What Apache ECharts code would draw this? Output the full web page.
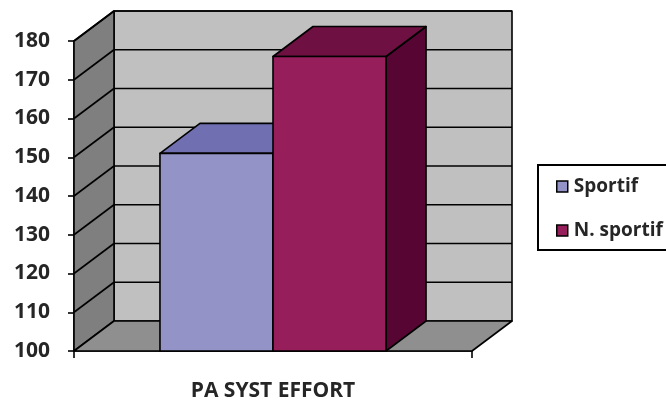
<!DOCTYPE html>
<html>
<head>
<meta charset="utf-8">
<script src="https://cdn.jsdelivr.net/npm/echarts@6/dist/echarts.min.js"></script>
<style>
    html, body { margin: 0; padding: 0; background: #fff; }
    #chart { width: 666px; height: 403px; }
</style>
</head>
<body>
<div id="chart"></div>
<script>
// Chart data
const categories = ['PA SYST EFFORT'];
const seriesNames = ['Sportif', 'N. sportif'];
const sportif = [151];
const nonSportif = [176];
const yTicks = [100, 110, 120, 130, 140, 150, 160, 170, 180];

// 3D look: depth offset of the back plane, in pixels
const DX = 40;
const DY = -30;
const BAR_FRAC = 0.284;
const EDGE = { stroke: '#000', lineWidth: 1.6, lineJoin: 'round' };

const yMin = yTicks[0];
const yMax = yTicks[yTicks.length - 1];

// Back wall, left wall, floor and grid lines
function renderWalls(params, api) {
    const c0 = api.coord([0, yMin]);
    const c1 = api.coord([0, yMax]);
    const bw = api.size([1, 0])[0];
    const xl = c0[0] - bw / 2;
    const xr = c0[0] + bw / 2;
    const yb = c0[1];
    const yt = c1[1];

    const children = [
        {
            type: 'polygon',
            shape: { points: [[xl + DX, yt + DY], [xr + DX, yt + DY], [xr + DX, yb + DY], [xl + DX, yb + DY]] },
            style: Object.assign({ fill: '#c0c0c0' }, EDGE)
        },
        {
            type: 'polygon',
            shape: { points: [[xl, yt], [xl + DX, yt + DY], [xl + DX, yb + DY], [xl, yb]] },
            style: Object.assign({ fill: '#7f7f7f' }, EDGE)
        },
        {
            type: 'polygon',
            shape: { points: [[xl, yb], [xl + DX, yb + DY], [xr + DX, yb + DY], [xr, yb]] },
            style: Object.assign({ fill: '#8f8f8f' }, EDGE)
        }
    ];

    yTicks.forEach(v => {
        if (v === yMin) return;
        const y = api.coord([0, v])[1];
        children.push({
            type: 'line',
            shape: { x1: xl + DX, y1: y + DY, x2: xr + DX, y2: y + DY },
            style: EDGE
        });
        children.push({
            type: 'line',
            shape: { x1: xl, y1: y, x2: xl + DX, y2: y + DY },
            style: EDGE
        });
    });

    return { type: 'group', children: children };
}

// 3D bar: front face, top and right side
function makeBarRenderer(side, colors) {
    return function (params, api) {
        const base = api.coord([api.value(0), yMin]);
        const tip = api.coord([api.value(0), api.value(1)]);
        const bw = api.size([1, 0])[0] * BAR_FRAC;
        const x0 = side < 0 ? base[0] - bw : base[0];
        const x1 = x0 + bw;
        const yt = tip[1];
        const yb = base[1];
        return {
            type: 'group',
            children: [
                {
                    type: 'polygon',
                    shape: { points: [[x1, yt], [x1 + DX, yt + DY], [x1 + DX, yb + DY], [x1, yb]] },
                    style: Object.assign({ fill: colors.side }, EDGE)
                },
                {
                    type: 'polygon',
                    shape: { points: [[x0, yt], [x0 + DX, yt + DY], [x1 + DX, yt + DY], [x1, yt]] },
                    style: Object.assign({ fill: colors.top }, EDGE)
                },
                {
                    type: 'rect',
                    shape: { x: x0, y: yt, width: bw, height: yb - yt },
                    style: Object.assign({ fill: colors.front }, EDGE)
                }
            ]
        };
    };
}

const font = { fontFamily: 'Open Sans', fontWeight: 'bold', fontSize: 21, color: '#262626' };

const chart = echarts.init(document.getElementById('chart'));

const option = {
    animation: false,
    grid: { left: 74, right: 194, top: 41, bottom: 52 },
    legend: {
        data: seriesNames,
        orient: 'vertical',
        left: 538,
        top: 165,
        padding: [12, 6, 10, 18],
        borderColor: '#000',
        borderWidth: 2,
        itemGap: 25,
        itemWidth: 11,
        itemHeight: 11,
        icon: 'rect',
        itemStyle: { borderColor: '#000', borderWidth: 1.5 },
        textStyle: Object.assign({}, font, { fontSize: 19, padding: [0, 0, 0, 1] })
    },
    xAxis: {
        type: 'category',
        data: categories,
        axisLine: { lineStyle: { color: '#000', width: 1.6 } },
        axisTick: { show: true, length: 7, lineStyle: { color: '#000', width: 1.6 } },
        axisLabel: Object.assign({ margin: 30 }, font),
        splitLine: { show: false }
    },
    yAxis: {
        type: 'value',
        min: yMin,
        max: yMax,
        interval: 10,
        axisLine: { show: true, lineStyle: { color: '#000', width: 1.6 } },
        axisTick: { show: true, length: 6, lineStyle: { color: '#000', width: 1.6 } },
        axisLabel: Object.assign({ margin: 24 }, font),
        splitLine: { show: false }
    },
    series: [
        {
            name: 'walls',
            type: 'custom',
            renderItem: renderWalls,
            data: [[0, yMin]],
            encode: { x: 0, y: 1 },
            silent: true
        },
        {
            name: seriesNames[0],
            type: 'custom',
            renderItem: makeBarRenderer(-1, { front: '#9393c7', top: '#6f6fb1', side: '#5a5a9a' }),
            itemStyle: { color: '#9393c7' },
            data: sportif.map((v, i) => [i, v]),
            encode: { x: 0, y: 1 }
        },
        {
            name: seriesNames[1],
            type: 'custom',
            renderItem: makeBarRenderer(1, { front: '#951e5b', top: '#6e1042', side: '#570633' }),
            itemStyle: { color: '#951e5b' },
            data: nonSportif.map((v, i) => [i, v]),
            encode: { x: 0, y: 1 }
        }
    ]
};

chart.setOption(option);
</script>
</body>
</html>
